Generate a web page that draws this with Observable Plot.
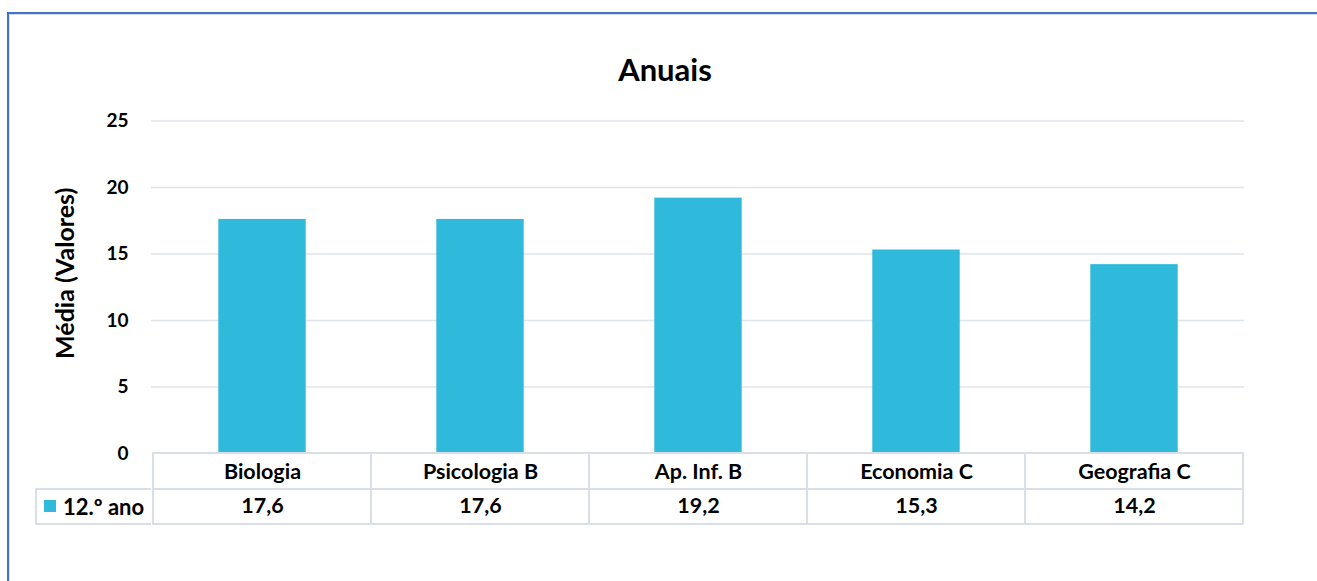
<!DOCTYPE html>
<html>
<head>
<meta charset="utf-8">
<script src="https://cdn.jsdelivr.net/npm/d3@7"></script>
<script src="https://cdn.jsdelivr.net/npm/@observablehq/plot@0.6"></script>
<style>
  body { margin: 0; background: #fff; font-family: Lato, sans-serif; }
  #wrap { position: relative; width: 1317px; height: 581px; overflow: hidden; background: #fff; }
  #border { position: absolute; left: 7px; top: 12px; width: 1400px; height: 700px;
            border-left: 2px solid #4472C4; border-top: 2px solid #4472C4;
            box-shadow: inset 1px 1px 0 #D6DEEE; }
  #title { position: absolute; left: 0; width: 1330px; top: 54px; text-align: center;
           font: 700 31px/30px Lato, sans-serif; color: #000; }
  #chart { position: absolute; left: 0; top: 0; }
  #legend { position: absolute; left: 35px; top: 488px; width: 116px; height: 37px; box-sizing: border-box;
            border: 2px solid #DADFE7; border-right: none; }
  #legend .key { position: absolute; left: 7px; top: 10px; width: 12px; height: 12px; }
  #legend .lab { position: absolute; left: 26px; top: 0; height: 33px;
                 font: 700 22px/33px Lato, sans-serif; color: #000; white-space: nowrap; }
</style>
</head>
<body>
<div id="wrap">
  <div id="border"></div>
  <div id="title"></div>
  <div id="chart"></div>
  <div id="legend"><div class="key"></div><div class="lab"></div></div>
</div>
<script>
// ---- data ----
const chartTitle = "Anuais";
const yLabel = "Média (Valores)";
const seriesName = "12.º ano";
const categories = ["Biologia", "Psicologia B", "Ap. Inf. B", "Economia C", "Geografia C"];
const values = [17.6, 17.6, 19.2, 15.3, 14.2];
const yTicks = [0, 5, 10, 15, 20, 25];

// ---- style ----
const barColor = "#2FBADB";
const gridColor = "#DFE3EA";
const cellColor = "#DADFE7";

const data = categories.map((c, i) => ({cat: c, val: values[i]}));
const fmt = v => d3.format(".1f")(v).replace(".", ",");

document.getElementById("title").textContent = chartTitle;
document.querySelector("#legend .key").style.background = barColor;
document.querySelector("#legend .lab").textContent = seriesName;

const W = 1317, H = 581;
const plot = Plot.plot({
  width: W,
  height: H,
  marginLeft: 151,
  marginRight: 73,
  marginTop: 120.5,
  marginBottom: 128,
  x: {domain: categories, padding: 0, axis: null},
  y: {domain: [0, 25], ticks: yTicks, label: null},
  style: {fontFamily: "Lato, sans-serif", fontWeight: 700, background: "transparent", overflow: "visible", color: "#000"},
  marks: [
    Plot.gridY(yTicks.filter(t => t > 0), {stroke: gridColor, strokeWidth: 1.5, strokeOpacity: 1}),
    Plot.axisY(yTicks, {tickSize: 0, tickPadding: 23, fontSize: 19, fontWeight: 700, fill: "#000", label: null}),
    Plot.text([yLabel], {frameAnchor: "left", textAnchor: "middle", lineAnchor: "middle", rotate: -90, dx: -86, dy: -14, fontSize: 25, fontWeight: 700, fill: "#000"}),
    Plot.barY(data, {x: "cat", y: "val", fill: barColor, insetLeft: 65.3, insetRight: 65.3}),
    // data table cells
    Plot.barY(data, {x: "cat", y1: () => 0, y2: () => 0, insetTop: 0, insetBottom: -36, fill: "none", stroke: cellColor, strokeWidth: 2}),
    Plot.barY(data, {x: "cat", y1: () => 0, y2: () => 0, insetTop: 36, insetBottom: -71, fill: "none", stroke: cellColor, strokeWidth: 2}),
    Plot.text(data, {x: "cat", y: () => 0, text: "cat", dy: 19, fontSize: 21.5, fontWeight: 700, fill: "#000", lineAnchor: "middle"}),
    Plot.text(data, {x: "cat", y: () => 0, text: d => fmt(d.val), dy: 53, fontSize: 21.5, fontWeight: 700, fill: "#000", lineAnchor: "middle"})
  ]
});
document.getElementById("chart").appendChild(plot);
</script>
</body>
</html>
